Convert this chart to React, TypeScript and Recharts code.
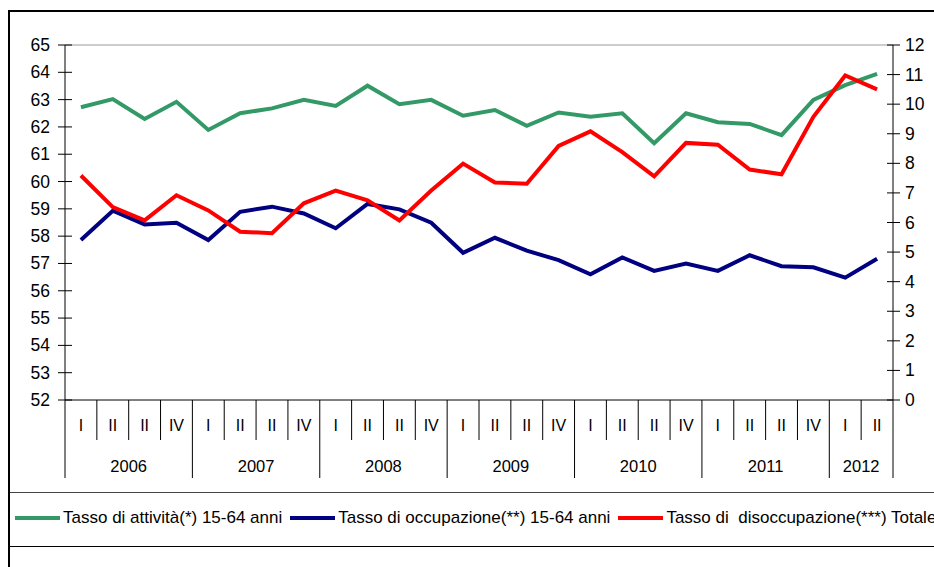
import React from 'react';
import { LineChart, Line, XAxis, YAxis, Legend, ReferenceLine } from 'recharts';

const years = ['2006', '2007', '2008', '2009', '2010', '2011', '2012'];
const quartersPerYear = [4, 4, 4, 4, 4, 4, 2];
const quarterLabels = ['I', 'II', 'II', 'IV'];

const activityName = 'Tasso di attività(*) 15-64 anni';
const employmentName = 'Tasso di occupazione(**) 15-64 anni';
const unemploymentName = 'Tasso di  disoccupazione(***) Totale';
const seriesOrder = [activityName, employmentName, unemploymentName];

const activity = [62.72, 63.02, 62.29, 62.92, 61.89, 62.5, 62.68, 62.99, 62.77, 63.51, 62.83, 62.99, 62.41, 62.62, 62.04, 62.53, 62.37, 62.5, 61.4, 62.5, 62.17, 62.11, 61.7, 62.99, 63.53, 63.94];
const employment = [57.86, 58.93, 58.43, 58.49, 57.86, 58.89, 59.08, 58.83, 58.29, 59.18, 58.98, 58.49, 57.39, 57.94, 57.47, 57.12, 56.6, 57.22, 56.73, 57.0, 56.73, 57.3, 56.9, 56.86, 56.48, 57.17];
const unemployment = [7.59, 6.52, 6.07, 6.92, 6.41, 5.69, 5.64, 6.65, 7.08, 6.75, 6.07, 7.08, 7.99, 7.35, 7.31, 8.59, 9.08, 8.38, 7.56, 8.69, 8.63, 7.79, 7.63, 9.57, 10.97, 10.5];

const leftTicks = [52, 53, 54, 55, 56, 57, 58, 59, 60, 61, 62, 63, 64, 65];
const rightTicks = [0, 1, 2, 3, 4, 5, 6, 7, 8, 9, 10, 11, 12];

type Row = { key: string; year: string; q: number; yearCount: number; activity: number; employment: number; unemployment: number };
const data: Row[] = [];
years.forEach((yr, yi) => {
  for (let q = 0; q < quartersPerYear[yi]; q++) {
    const i = data.length;
    data.push({
      key: `${yr}-${q}`,
      year: yr,
      q,
      yearCount: quartersPerYear[yi],
      activity: activity[i],
      employment: employment[i],
      unemployment: unemployment[i],
    });
  }
});

const FONT = '"Liberation Sans", Arial, sans-serif';
const W = 934;
const H = 567;
const LEFT_W = 65;
const RIGHT_W = 41;
const TOP = 45;
const XAXIS_H = 167;
const PLOT_W = W - LEFT_W - RIGHT_W;
const BW = PLOT_W / data.length;

const QuarterTick = (props: any) => {
  const { x, y, payload } = props;
  const i = payload.index ?? props.index;
  const row = data[i];
  if (!row) return null;
  const left = x - BW / 2;
  const first = row.q === 0;
  const last = i === data.length - 1;
  return (
    <g>
      <line x1={left} y1={y} x2={left} y2={y + (first ? 78 : 40)} stroke="#000" strokeWidth={1} />
      {last && <line x1={x + BW / 2} y1={y} x2={x + BW / 2} y2={y + 78} stroke="#000" strokeWidth={1} />}
      <text x={x} y={y + 31} textAnchor="middle" fontFamily={FONT} fontSize={16} fill="#000">
        {quarterLabels[row.q]}
      </text>
      {first && (
        <text x={left + (row.yearCount * BW) / 2} y={y + 72} textAnchor="middle" fontFamily={FONT} fontSize={16.5} fill="#000">
          {row.year}
        </text>
      )}
    </g>
  );
};

const LeftTick = (props: any) => {
  const { x, y, payload } = props;
  return (
    <g>
      <line x1={x - 7} y1={y} x2={x + 7} y2={y} stroke="#000" strokeWidth={1} />
      <text x={x - 15} y={y + 6} textAnchor="end" fontFamily={FONT} fontSize={17.5} fill="#000">
        {payload.value}
      </text>
    </g>
  );
};

const RightTick = (props: any) => {
  const { x, y, payload } = props;
  return (
    <g>
      <line x1={x - 6} y1={y} x2={x + 7} y2={y} stroke="#000" strokeWidth={1} />
      <text x={x + 12} y={y + 6} textAnchor="start" fontFamily={FONT} fontSize={17.5} fill="#000">
        {payload.value}
      </text>
    </g>
  );
};

const renderLegend = (props: any) => {
  const payload = [...(props.payload || [])].sort(
    (a: any, b: any) => seriesOrder.indexOf(a.value) - seriesOrder.indexOf(b.value)
  );
  return (
    <div style={{ display: 'flex', alignItems: 'center', whiteSpace: 'pre', fontFamily: FONT, fontSize: 17, color: '#000' }}>
      {payload.map((e: any) => (
        <div key={e.value} style={{ display: 'flex', alignItems: 'center', marginRight: 8 }}>
          <span style={{ display: 'inline-block', width: 45, height: 4, background: e.color, marginRight: 3 }} />
          <span style={{ whiteSpace: 'pre' }}>{e.value}</span>
        </div>
      ))}
    </div>
  );
};

export default function App() {
  return (
    <div style={{ position: 'absolute', left: 0, top: 0, width: W, height: H, overflow: 'hidden', background: '#fff' }}>
      <div style={{ position: 'absolute', left: 8, top: 10, width: 2000, height: 2000, borderLeft: '2px solid #000', borderTop: '2px solid #000' }} />
      <div style={{ position: 'absolute', left: 10, top: 492, width: 2000, height: 1, background: '#444' }} />
      <div style={{ position: 'absolute', left: 10, top: 546, width: 2000, height: 1, background: '#000' }} />
      <div style={{ position: 'absolute', left: 0, top: 0 }}>
        <LineChart width={W} height={H} data={data} margin={{ top: TOP, right: 0, bottom: 0, left: 0 }}>
          <XAxis
            dataKey="key"
            height={XAXIS_H}
            interval={0}
            padding={{ left: BW / 2, right: BW / 2 }}
            tickSize={0}
            tickMargin={0}
            tickLine={false}
            axisLine={{ stroke: '#000', strokeWidth: 1 }}
            tick={<QuarterTick />}
          />
          <YAxis
            yAxisId="left"
            orientation="left"
            width={LEFT_W}
            domain={[52, 65]}
            ticks={leftTicks}
            interval={0}
            tickSize={0}
            tickMargin={0}
            tickLine={false}
            axisLine={{ stroke: '#000', strokeWidth: 1 }}
            tick={<LeftTick />}
          />
          <YAxis
            yAxisId="right"
            orientation="right"
            width={RIGHT_W}
            domain={[0, 12]}
            ticks={rightTicks}
            interval={0}
            tickSize={0}
            tickMargin={0}
            tickLine={false}
            axisLine={{ stroke: '#000', strokeWidth: 1 }}
            tick={<RightTick />}
          />
          <ReferenceLine yAxisId="left" y={65} stroke="#9a9a9a" strokeWidth={1} />
          <Legend
            verticalAlign="middle"
            align="center"
            layout="horizontal"
            content={renderLegend}
            wrapperStyle={{ position: 'absolute', top: 508, left: 15, width: 1200 }}
          />
          <Line yAxisId="left" type="linear" dataKey="activity" name={activityName} stroke="#339966" strokeWidth={4} dot={false} isAnimationActive={false} />
          <Line yAxisId="left" type="linear" dataKey="employment" name={employmentName} stroke="#000080" strokeWidth={4} dot={false} isAnimationActive={false} />
          <Line yAxisId="right" type="linear" dataKey="unemployment" name={unemploymentName} stroke="#ff0000" strokeWidth={4} dot={false} isAnimationActive={false} />
        </LineChart>
      </div>
    </div>
  );
}
